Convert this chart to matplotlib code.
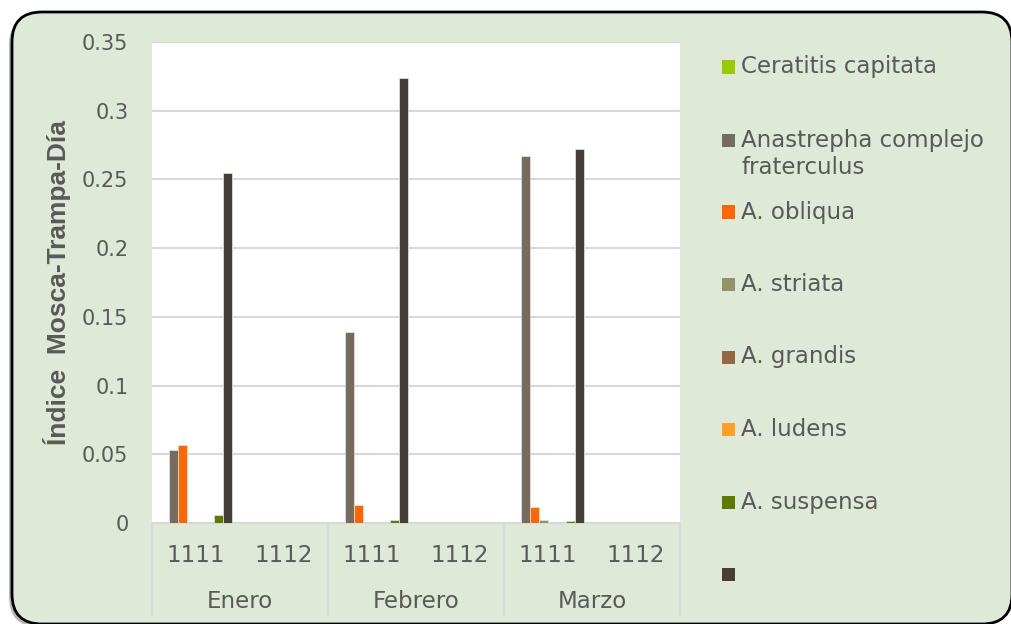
import matplotlib.pyplot as plt
import numpy as np
from matplotlib.patches import FancyBboxPatch, Rectangle
from matplotlib.lines import Line2D
import matplotlib.transforms as mtransforms

# data
months = ['Enero', 'Febrero', 'Marzo']
traps = ['1111', '1112']
species = ['Ceratitis capitata', 'Anastrepha complejo\nfraterculus', 'A. obliqua',
           'A. striata', 'A. grandis', 'A. ludens', 'A. suspensa', '']
# one value per (month, trap): Enero 1111, Enero 1112, Febrero 1111, ...
ceratitis = [0, 0, 0, 0, 0, 0]
fraterculus = [0.053, 0, 0.139, 0, 0.267, 0]
obliqua = [0.057, 0, 0.013, 0, 0.012, 0]
striata = [0.0007, 0, 0, 0, 0.002, 0]
grandis = [0, 0, 0, 0, 0, 0]
ludens = [0, 0, 0, 0, 0, 0]
suspensa = [0.006, 0, 0.002, 0, 0.0015, 0]
sin_nombre = [0.255, 0, 0.324, 0, 0.272, 0]
series = [ceratitis, fraterculus, obliqua, striata, grandis, ludens, suspensa, sin_nombre]
colores = ['#99CC00', '#756C5F', '#FF6600', '#93936A', '#976741', '#FFA028', '#5E7A00', '#473E35']

gris = '#595959'
linea = '#D9D9D9'
fuente = 'DejaVu Sans'
tam = 16.5

fig = plt.figure(figsize=(10.11, 6.24), dpi=100)
fig.patch.set_facecolor('white')

# rounded green panel with a little shadow
sombra = FancyBboxPatch((9 / 100, -3 / 100), 1000 / 100, 612 / 100,
                        boxstyle='round,pad=0,rounding_size=0.3',
                        transform=fig.dpi_scale_trans, facecolor='#8a8a8a',
                        edgecolor='none', alpha=0.6, zorder=-3)
panel = FancyBboxPatch((12 / 100, 0 / 100), 1000 / 100, 612 / 100,
                       boxstyle='round,pad=0,rounding_size=0.3',
                       transform=fig.dpi_scale_trans, facecolor='#DFE9D7',
                       edgecolor='black', linewidth=2, zorder=-2)
fig.patches.extend([sombra, panel])

W, H = 1011, 624
ax = fig.add_axes([152 / W, (H - 523) / H, 528 / W, 481 / H])
ax.set_zorder(1)
ax.set_facecolor('white')

x = np.arange(len(months) * len(traps))
ancho = 0.103
n = len(series)
for i, (vals, c) in enumerate(zip(series, colores)):
    ax.bar(x + (i - (n - 1) / 2) * ancho, vals, width=ancho, color=c,
           edgecolor='#e6e6e6', linewidth=0.5, zorder=3)

ax.set_xlim(-0.5, len(x) - 0.5)
ax.set_ylim(0, 0.35)
ax.set_yticks(np.arange(0, 0.351, 0.05))
ax.set_yticklabels(['0', '0.05', '0.1', '0.15', '0.2', '0.25', '0.3', '0.35'])
ax.yaxis.grid(True, color=linea, linewidth=1.5, zorder=0)
ax.tick_params(axis='y', length=0, pad=17, labelsize=15, labelcolor=gris)
for lab in ax.get_yticklabels():
    lab.set_fontfamily(fuente)
ax.set_xticks([])
for s in ['top', 'right', 'left']:
    ax.spines[s].set_visible(False)
ax.spines['bottom'].set_color(linea)
ax.spines['bottom'].set_linewidth(1.5)

ax.set_ylabel('Índice  Mosca-Trampa-Día', fontsize=19, fontweight='bold',
              color=gris, family='Liberation Sans', labelpad=8)

# two-level category axis
tr = mtransforms.blended_transform_factory(ax.transData, ax.transAxes)
for k, xi in enumerate(x):
    ax.text(xi, -32 / 481, traps[k % len(traps)], transform=tr, ha='center', va='center',
            fontsize=tam, color=gris, family=fuente)
for m, mes in enumerate(months):
    centro = m * len(traps) + (len(traps) - 1) / 2
    ax.text(centro, -78 / 481, mes, transform=tr, ha='center', va='center',
            fontsize=tam, color=gris, family=fuente)
for b in np.arange(-0.5, len(x), len(traps)):
    ax.add_line(Line2D([b, b], [0, -92 / 481], transform=tr, color=linea,
                       linewidth=1.5, clip_on=False))

# legend drawn at the right side
ys = [67, 140, 212, 284, 357, 429, 502, 574]
for nombre, c, yp in zip(species, colores, ys):
    fig.patches.append(Rectangle((722 / W, (H - yp - 6.5) / H), 13 / W, 13 / H,
                                 transform=fig.transFigure, facecolor=c, edgecolor='none'))
    fig.text(741 / W, (H - yp) / H, nombre.split('\n')[0], ha='left', va='center',
             fontsize=tam, color=gris, family=fuente)
    if '\n' in nombre:
        fig.text(741 / W, (H - yp - 28) / H, nombre.split('\n')[1], ha='left', va='center',
                 fontsize=tam, color=gris, family=fuente)

fig.savefig('out.png', dpi=100)
